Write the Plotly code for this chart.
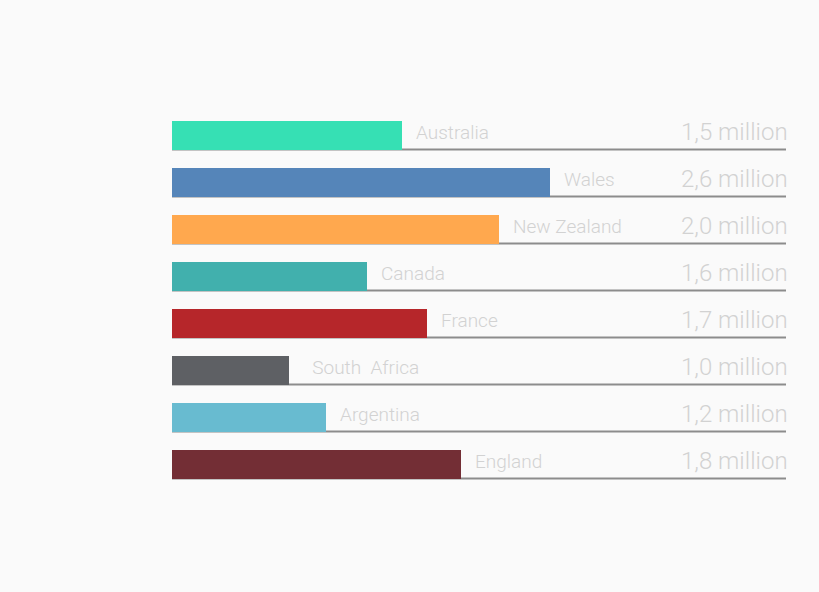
import plotly.graph_objects as go

countries = ["Australia", "Wales", "New Zealand", "Canada", "France", "  South  Africa", "Argentina", "England"]
# bar length as a share (%) of the full track
bar_share = [37.5, 61.6, 53.3, 31.8, 41.5, 19.1, 25.1, 47.1]
value_labels = ["1,5 million", "2,6 million", "2,0 million", "1,6 million",
                "1,7 million", "1,0 million", "1,2 million", "1,8 million"]
colors = ["#36e0b4", "#5585b9", "#ffa84e", "#41b0ad", "#b6262a", "#5e6064", "#68bbd0", "#732e35"]

track_max = 100
bar_width = 0.6
font_family = "Roboto Light, Roboto, sans-serif"

fig = go.Figure()
fig.add_trace(go.Bar(
    x=bar_share, y=list(range(len(countries))), orientation="h",
    marker=dict(color=colors, line=dict(width=0)), width=bar_width,
    hoverinfo="skip", showlegend=False,
))

shapes = []
annotations = []
for i, (c, v, lab) in enumerate(zip(countries, bar_share, value_labels)):
    shapes.append(dict(type="line", xref="x", yref="y", x0=0, x1=track_max,
                       y0=i + bar_width / 2, y1=i + bar_width / 2,
                       line=dict(color="#8c8c8c", width=2), layer="below"))
    annotations.append(dict(x=v, y=i, xref="x", yref="y", text=c, showarrow=False,
                            xanchor="left", yanchor="middle", xshift=12, yshift=3,
                            font=dict(family=font_family, size=19, color="#d2d2d2", weight=300)))
    annotations.append(dict(x=track_max, y=i, xref="x", yref="y", text=lab, showarrow=False,
                            xanchor="right", yanchor="middle", xshift=4, yshift=4,
                            font=dict(family=font_family, size=24, color="#d2d2d2", weight=300)))

fig.update_layout(
    width=819, height=592,
    margin=dict(l=172, r=33, t=112, b=104),
    paper_bgcolor="#fafafa", plot_bgcolor="#fafafa",
    xaxis=dict(range=[0, track_max], visible=False, fixedrange=True),
    yaxis=dict(range=[len(countries) - 0.5, -0.5], visible=False, fixedrange=True),
    shapes=shapes, annotations=annotations, bargap=0,
)

fig.write_html("out.html")
